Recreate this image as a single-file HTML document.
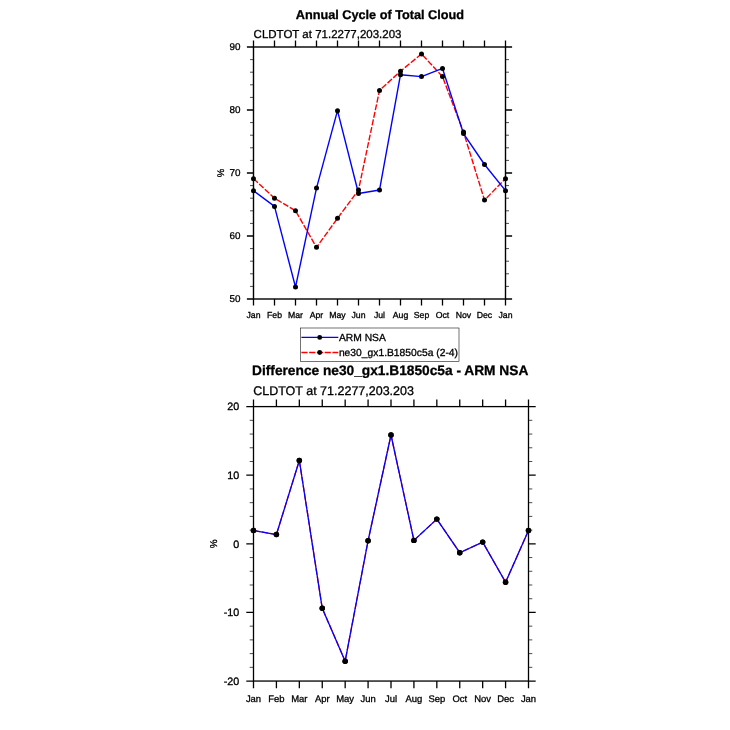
<!DOCTYPE html>
<html lang="en">
<head>
<meta charset="utf-8">
<title>Annual Cycle of Total Cloud</title>
<style>
html,body{margin:0;padding:0;background:#fff;}
body{width:730px;height:730px;overflow:hidden;}
svg{display:block;}
svg text{font-family:"Liberation Sans", Arial, Helvetica, sans-serif;fill:#000;stroke:#000;stroke-width:0.3px;text-rendering:geometricPrecision;}
</style>
</head>
<body>
<svg width="730" height="730" viewBox="0 0 730 730">
<rect x="0" y="0" width="730" height="730" fill="#fff"/>
<g id="plot-top">
<rect x="253.5" y="47" width="252" height="252" fill="none" stroke="#000" stroke-width="1.4"/>
<path d="M253.5 47v-6.6M253.5 299v6.6M274.5 47v-6.6M274.5 299v6.6M295.5 47v-6.6M295.5 299v6.6M316.5 47v-6.6M316.5 299v6.6M337.5 47v-6.6M337.5 299v6.6M358.5 47v-6.6M358.5 299v6.6M379.5 47v-6.6M379.5 299v6.6M400.5 47v-6.6M400.5 299v6.6M421.5 47v-6.6M421.5 299v6.6M442.5 47v-6.6M442.5 299v6.6M463.5 47v-6.6M463.5 299v6.6M484.5 47v-6.6M484.5 299v6.6M505.5 47v-6.6M505.5 299v6.6M253.5 299h-6.6M505.5 299h6.6M253.5 236h-6.6M505.5 236h6.6M253.5 173h-6.6M505.5 173h6.6M253.5 110h-6.6M505.5 110h6.6M253.5 47h-6.6M505.5 47h6.6" fill="none" stroke="#000" stroke-width="1.3"/>
<path d="M253.5 286.4h-3.5M505.5 286.4h3.5M253.5 273.8h-3.5M505.5 273.8h3.5M253.5 261.2h-3.5M505.5 261.2h3.5M253.5 248.6h-3.5M505.5 248.6h3.5M253.5 223.4h-3.5M505.5 223.4h3.5M253.5 210.8h-3.5M505.5 210.8h3.5M253.5 198.2h-3.5M505.5 198.2h3.5M253.5 185.6h-3.5M505.5 185.6h3.5M253.5 160.4h-3.5M505.5 160.4h3.5M253.5 147.8h-3.5M505.5 147.8h3.5M253.5 135.2h-3.5M505.5 135.2h3.5M253.5 122.6h-3.5M505.5 122.6h3.5M253.5 97.4h-3.5M505.5 97.4h3.5M253.5 84.8h-3.5M505.5 84.8h3.5M253.5 72.2h-3.5M505.5 72.2h3.5M253.5 59.6h-3.5M505.5 59.6h3.5" fill="none" stroke="#000" stroke-width="0.7"/>
<polyline points="253.5,178.67 274.5,198.2 295.5,210.8 316.5,247.34 337.5,218.36 358.5,190.01 379.5,90.47 400.5,71.25 421.5,53.93 442.5,76.61 463.5,132.05 484.5,200.09 505.5,178.67" fill="none" stroke="#ff0000" stroke-width="1.4" stroke-linejoin="round" stroke-dasharray="6 1.75"/>
<polyline points="253.5,190.64 274.5,206.39 295.5,287.03 316.5,188.12 337.5,110.63 358.5,193.48 379.5,190.01 400.5,74.72 421.5,76.61 442.5,68.42 463.5,133.62 484.5,164.5 505.5,190.64" fill="none" stroke="#0000ff" stroke-width="1.4" stroke-linejoin="round"/>
<circle cx="253.5" cy="178.67" r="2.5" fill="#000"/>
<circle cx="274.5" cy="198.2" r="2.5" fill="#000"/>
<circle cx="295.5" cy="210.8" r="2.5" fill="#000"/>
<circle cx="316.5" cy="247.34" r="2.5" fill="#000"/>
<circle cx="337.5" cy="218.36" r="2.5" fill="#000"/>
<circle cx="358.5" cy="190.01" r="2.5" fill="#000"/>
<circle cx="379.5" cy="90.47" r="2.5" fill="#000"/>
<circle cx="400.5" cy="71.25" r="2.5" fill="#000"/>
<circle cx="421.5" cy="53.93" r="2.5" fill="#000"/>
<circle cx="442.5" cy="76.61" r="2.5" fill="#000"/>
<circle cx="463.5" cy="132.05" r="2.5" fill="#000"/>
<circle cx="484.5" cy="200.09" r="2.5" fill="#000"/>
<circle cx="505.5" cy="178.67" r="2.5" fill="#000"/>
<circle cx="253.5" cy="190.64" r="2.5" fill="#000"/>
<circle cx="274.5" cy="206.39" r="2.5" fill="#000"/>
<circle cx="295.5" cy="287.03" r="2.5" fill="#000"/>
<circle cx="316.5" cy="188.12" r="2.5" fill="#000"/>
<circle cx="337.5" cy="110.63" r="2.5" fill="#000"/>
<circle cx="358.5" cy="193.48" r="2.5" fill="#000"/>
<circle cx="379.5" cy="190.01" r="2.5" fill="#000"/>
<circle cx="400.5" cy="74.72" r="2.5" fill="#000"/>
<circle cx="421.5" cy="76.61" r="2.5" fill="#000"/>
<circle cx="442.5" cy="68.42" r="2.5" fill="#000"/>
<circle cx="463.5" cy="133.62" r="2.5" fill="#000"/>
<circle cx="484.5" cy="164.5" r="2.5" fill="#000"/>
<circle cx="505.5" cy="190.64" r="2.5" fill="#000"/>
<text x="253.5" y="318.3" font-size="8.7" text-anchor="middle">Jan</text>
<text x="274.5" y="318.3" font-size="8.7" text-anchor="middle">Feb</text>
<text x="295.5" y="318.3" font-size="8.7" text-anchor="middle">Mar</text>
<text x="316.5" y="318.3" font-size="8.7" text-anchor="middle">Apr</text>
<text x="337.5" y="318.3" font-size="8.7" text-anchor="middle">May</text>
<text x="358.5" y="318.3" font-size="8.7" text-anchor="middle">Jun</text>
<text x="379.5" y="318.3" font-size="8.7" text-anchor="middle">Jul</text>
<text x="400.5" y="318.3" font-size="8.7" text-anchor="middle">Aug</text>
<text x="421.5" y="318.3" font-size="8.7" text-anchor="middle">Sep</text>
<text x="442.5" y="318.3" font-size="8.7" text-anchor="middle">Oct</text>
<text x="463.5" y="318.3" font-size="8.7" text-anchor="middle">Nov</text>
<text x="484.5" y="318.3" font-size="8.7" text-anchor="middle">Dec</text>
<text x="505.5" y="318.3" font-size="8.7" text-anchor="middle">Jan</text>
<text x="240.4" y="301.98" font-size="9.85" text-anchor="end">50</text>
<text x="240.4" y="238.98" font-size="9.85" text-anchor="end">60</text>
<text x="240.4" y="175.98" font-size="9.85" text-anchor="end">70</text>
<text x="240.4" y="112.98" font-size="9.85" text-anchor="end">80</text>
<text x="240.4" y="49.98" font-size="9.85" text-anchor="end">90</text>
<text transform="translate(220.4 173) rotate(-90)" x="0" y="3.32" font-size="9.5" text-anchor="middle" stroke="none">%</text>
<text x="379.9" y="18.9" font-size="12.7" font-weight="bold" text-anchor="middle">Annual Cycle of Total Cloud</text>
<text x="253.6" y="37.6" font-size="11.5">CLDTOT at 71.2277,203.203</text>
</g>
<g id="legend">
<rect x="300.5" y="328" width="158.5" height="33.5" fill="#fff" stroke="#000" stroke-width="0.55"/>
<line x1="301.4" y1="337.4" x2="338.3" y2="337.4" stroke="#0000ff" stroke-width="1.3"/>
<line x1="301.4" y1="352.5" x2="338.3" y2="352.5" stroke="#ff0000" stroke-width="1.3" stroke-dasharray="6.2 1.55"/>
<circle cx="319.7" cy="337.4" r="2.45" fill="#000"/>
<circle cx="319.7" cy="352.5" r="2.45" fill="#000"/>
<text x="338.9" y="341.1" font-size="10.3">ARM NSA</text>
<text x="338.9" y="355.9" font-size="10.3">ne30_gx1.B1850c5a (2-4)</text>
</g>
<g id="plot-bottom">
<rect x="253.5" y="406.6" width="275" height="274.45" fill="none" stroke="#000" stroke-width="1.3"/>
<path d="M253.5 406.6v-7.2M253.5 681.05v7.2M276.42 406.6v-7.2M276.42 681.05v7.2M299.33 406.6v-7.2M299.33 681.05v7.2M322.25 406.6v-7.2M322.25 681.05v7.2M345.17 406.6v-7.2M345.17 681.05v7.2M368.08 406.6v-7.2M368.08 681.05v7.2M391 406.6v-7.2M391 681.05v7.2M413.92 406.6v-7.2M413.92 681.05v7.2M436.83 406.6v-7.2M436.83 681.05v7.2M459.75 406.6v-7.2M459.75 681.05v7.2M482.67 406.6v-7.2M482.67 681.05v7.2M505.58 406.6v-7.2M505.58 681.05v7.2M528.5 406.6v-7.2M528.5 681.05v7.2M253.5 681.05h-7.2M528.5 681.05h7.2M253.5 612.44h-7.2M528.5 612.44h7.2M253.5 543.83h-7.2M528.5 543.83h7.2M253.5 475.21h-7.2M528.5 475.21h7.2M253.5 406.6h-7.2M528.5 406.6h7.2" fill="none" stroke="#000" stroke-width="1.3"/>
<path d="M253.5 667.33h-3.82M528.5 667.33h3.82M253.5 653.61h-3.82M528.5 653.61h3.82M253.5 639.88h-3.82M528.5 639.88h3.82M253.5 626.16h-3.82M528.5 626.16h3.82M253.5 598.72h-3.82M528.5 598.72h3.82M253.5 584.99h-3.82M528.5 584.99h3.82M253.5 571.27h-3.82M528.5 571.27h3.82M253.5 557.55h-3.82M528.5 557.55h3.82M253.5 530.1h-3.82M528.5 530.1h3.82M253.5 516.38h-3.82M528.5 516.38h3.82M253.5 502.66h-3.82M528.5 502.66h3.82M253.5 488.94h-3.82M528.5 488.94h3.82M253.5 461.49h-3.82M528.5 461.49h3.82M253.5 447.77h-3.82M528.5 447.77h3.82M253.5 434.05h-3.82M528.5 434.05h3.82M253.5 420.32h-3.82M528.5 420.32h3.82" fill="none" stroke="#000" stroke-width="0.7"/>
<polyline points="253.5,530.45 276.42,534.56 299.33,460.46 322.25,608.32 345.17,661.15 368.08,540.74 391,435.01 413.92,540.39 436.83,519.12 459.75,552.74 482.67,542.11 505.58,582.25 528.5,530.45" fill="none" stroke="#ff0000" stroke-width="1.3" stroke-linejoin="round" stroke-dasharray="6.5 1.9"/>
<polyline points="253.5,530.45 276.42,534.56 299.33,460.46 322.25,608.32 345.17,661.15 368.08,540.74 391,435.01 413.92,540.39 436.83,519.12 459.75,552.74 482.67,542.11 505.58,582.25 528.5,530.45" fill="none" stroke="#0000ff" stroke-width="1.3" stroke-linejoin="round"/>
<circle cx="253.5" cy="530.45" r="2.73" fill="#000"/>
<circle cx="276.42" cy="534.56" r="2.73" fill="#000"/>
<circle cx="299.33" cy="460.46" r="2.73" fill="#000"/>
<circle cx="322.25" cy="608.32" r="2.73" fill="#000"/>
<circle cx="345.17" cy="661.15" r="2.73" fill="#000"/>
<circle cx="368.08" cy="540.74" r="2.73" fill="#000"/>
<circle cx="391" cy="435.01" r="2.73" fill="#000"/>
<circle cx="413.92" cy="540.39" r="2.73" fill="#000"/>
<circle cx="436.83" cy="519.12" r="2.73" fill="#000"/>
<circle cx="459.75" cy="552.74" r="2.73" fill="#000"/>
<circle cx="482.67" cy="542.11" r="2.73" fill="#000"/>
<circle cx="505.58" cy="582.25" r="2.73" fill="#000"/>
<circle cx="528.5" cy="530.45" r="2.73" fill="#000"/>
<circle cx="253.5" cy="530.45" r="2.73" fill="#000"/>
<circle cx="276.42" cy="534.56" r="2.73" fill="#000"/>
<circle cx="299.33" cy="460.46" r="2.73" fill="#000"/>
<circle cx="322.25" cy="608.32" r="2.73" fill="#000"/>
<circle cx="345.17" cy="661.15" r="2.73" fill="#000"/>
<circle cx="368.08" cy="540.74" r="2.73" fill="#000"/>
<circle cx="391" cy="435.01" r="2.73" fill="#000"/>
<circle cx="413.92" cy="540.39" r="2.73" fill="#000"/>
<circle cx="436.83" cy="519.12" r="2.73" fill="#000"/>
<circle cx="459.75" cy="552.74" r="2.73" fill="#000"/>
<circle cx="482.67" cy="542.11" r="2.73" fill="#000"/>
<circle cx="505.58" cy="582.25" r="2.73" fill="#000"/>
<circle cx="528.5" cy="530.45" r="2.73" fill="#000"/>
<text x="253.5" y="702.11" font-size="9.45" text-anchor="middle">Jan</text>
<text x="276.42" y="702.11" font-size="9.45" text-anchor="middle">Feb</text>
<text x="299.33" y="702.11" font-size="9.45" text-anchor="middle">Mar</text>
<text x="322.25" y="702.11" font-size="9.45" text-anchor="middle">Apr</text>
<text x="345.17" y="702.11" font-size="9.45" text-anchor="middle">May</text>
<text x="368.08" y="702.11" font-size="9.45" text-anchor="middle">Jun</text>
<text x="391" y="702.11" font-size="9.45" text-anchor="middle">Jul</text>
<text x="413.92" y="702.11" font-size="9.45" text-anchor="middle">Aug</text>
<text x="436.83" y="702.11" font-size="9.45" text-anchor="middle">Sep</text>
<text x="459.75" y="702.11" font-size="9.45" text-anchor="middle">Oct</text>
<text x="482.67" y="702.11" font-size="9.45" text-anchor="middle">Nov</text>
<text x="505.58" y="702.11" font-size="9.45" text-anchor="middle">Dec</text>
<text x="528.5" y="702.11" font-size="9.45" text-anchor="middle">Jan</text>
<text x="239.2" y="684.8" font-size="10.75" text-anchor="end">-20</text>
<text x="239.2" y="616.19" font-size="10.75" text-anchor="end">-10</text>
<text x="239.2" y="547.57" font-size="10.75" text-anchor="end">0</text>
<text x="239.2" y="478.96" font-size="10.75" text-anchor="end">10</text>
<text x="239.2" y="410.35" font-size="10.75" text-anchor="end">20</text>
<text transform="translate(213.68 543.83) rotate(-90)" x="0" y="3.5" font-size="10" text-anchor="middle" stroke="none">%</text>
<text x="390.2" y="375.4" font-size="13.72" font-weight="bold" text-anchor="middle">Difference ne30_gx1.B1850c5a - ARM NSA</text>
<text x="253.2" y="395.3" font-size="12.5">CLDTOT at 71.2277,203.203</text>
</g>
</svg>
</body>
</html>
